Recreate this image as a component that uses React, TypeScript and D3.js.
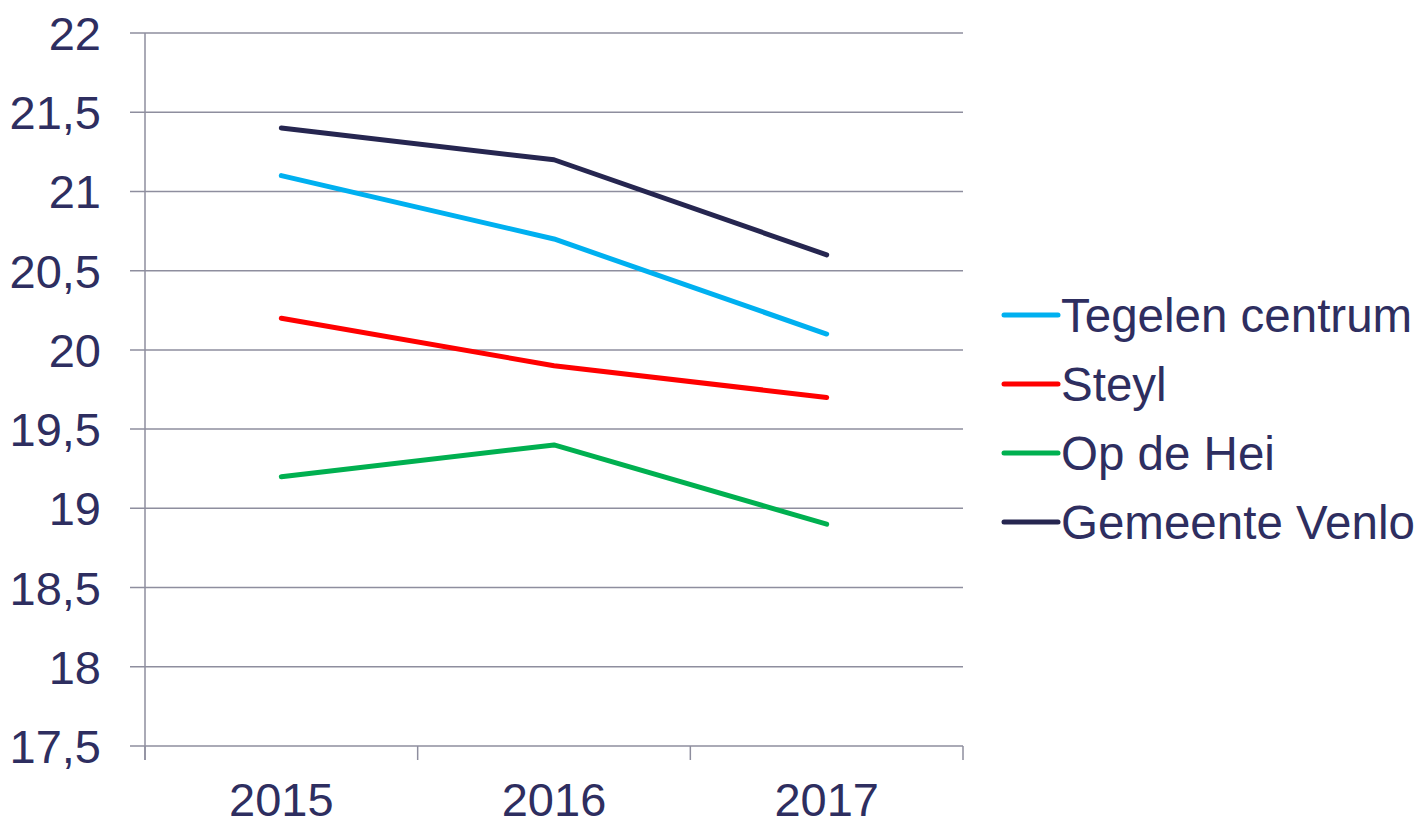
import * as d3 from 'd3'
import { useEffect, useRef } from 'react'

const years = ['2015', '2016', '2017']
const seriesNames = ['Tegelen centrum', 'Steyl', 'Op de Hei', 'Gemeente Venlo']
const tegelen = [21.1, 20.7, 20.1]
const steyl = [20.2, 19.9, 19.7]
const opDeHei = [19.2, 19.4, 18.9]
const venlo = [21.4, 21.2, 20.6]
const colors = ['#00b0f0', '#ff0000', '#00b050', '#262650']
const yTicks = [17.5, 18, 18.5, 19, 19.5, 20, 20.5, 21, 21.5, 22]

const W = 1427
const H = 824
const textColor = '#2e2e60'
const gridColor = '#8e8e9e'
const font = '"Liberation Sans", Arial, sans-serif'

export default function App() {
  const ref = useRef<SVGSVGElement>(null)

  useEffect(() => {
    const svg = d3.select(ref.current)
    svg.selectAll('*').remove()

    const left = 145, right = 963, top = 33, bottom = 746

    const x = d3.scaleBand().domain(years).range([left, right])
    const y = d3.scaleLinear().domain([17.5, 22]).range([bottom, top])

    // gridlines
    svg.append('g')
      .selectAll('line')
      .data(yTicks)
      .enter().append('line')
      .attr('x1', left - 15)
      .attr('x2', right)
      .attr('y1', d => y(d))
      .attr('y2', d => y(d))
      .attr('stroke', gridColor)
      .attr('stroke-width', 1.5)

    // y axis line
    svg.append('line')
      .attr('x1', left).attr('x2', left)
      .attr('y1', top).attr('y2', bottom + 14)
      .attr('stroke', gridColor).attr('stroke-width', 1.5)

    // x ticks at band edges
    const edges = years.map(d => x(d) as number).concat([right])
    svg.append('g')
      .selectAll('line')
      .data(edges)
      .enter().append('line')
      .attr('x1', d => d).attr('x2', d => d)
      .attr('y1', bottom).attr('y2', bottom + 14)
      .attr('stroke', gridColor).attr('stroke-width', 1.5)

    // y labels
    svg.append('g')
      .selectAll('text')
      .data(yTicks)
      .enter().append('text')
      .attr('x', 101)
      .attr('y', d => y(d) + 17)
      .attr('text-anchor', 'end')
      .attr('font-family', font)
      .attr('font-size', 47)
      .attr('fill', textColor)
      .text(d => d3.format('.1f')(d).replace('.0', '').replace('.', ','))

    // x labels
    svg.append('g')
      .selectAll('text')
      .data(years)
      .enter().append('text')
      .attr('x', d => (x(d) as number) + x.bandwidth() / 2)
      .attr('y', 816)
      .attr('text-anchor', 'middle')
      .attr('font-family', font)
      .attr('font-size', 47)
      .attr('fill', textColor)
      .text(d => d)

    // lines
    const allSeries = [tegelen, steyl, opDeHei, venlo]
    const line = d3.line<number>()
      .x((_, i) => (x(years[i]) as number) + x.bandwidth() / 2)
      .y(d => y(d))

    svg.append('g')
      .selectAll('path')
      .data(allSeries)
      .enter().append('path')
      .attr('d', d => line(d))
      .attr('fill', 'none')
      .attr('stroke', (_, i) => colors[i])
      .attr('stroke-width', 5)
      .attr('stroke-linecap', 'round')
      .attr('stroke-linejoin', 'round')

    // legend
    const legend = svg.append('g')
      .selectAll('g')
      .data(seriesNames)
      .enter().append('g')
      .attr('transform', (_, i) => `translate(1004,${315 + i * 69})`)

    legend.append('line')
      .attr('x1', 0).attr('x2', 54)
      .attr('y1', 0).attr('y2', 0)
      .attr('stroke', (_, i) => colors[i])
      .attr('stroke-width', 5)
      .attr('stroke-linecap', 'round')

    legend.append('text')
      .attr('x', 57)
      .attr('y', 17)
      .attr('font-family', font)
      .attr('font-size', 47.5)
      .attr('fill', textColor)
      .text(d => d)
  }, [])

  return (
    <svg ref={ref} width={W} height={H} style={{ position: 'absolute', left: 0, top: 0, background: '#fff' }} />
  )
}
